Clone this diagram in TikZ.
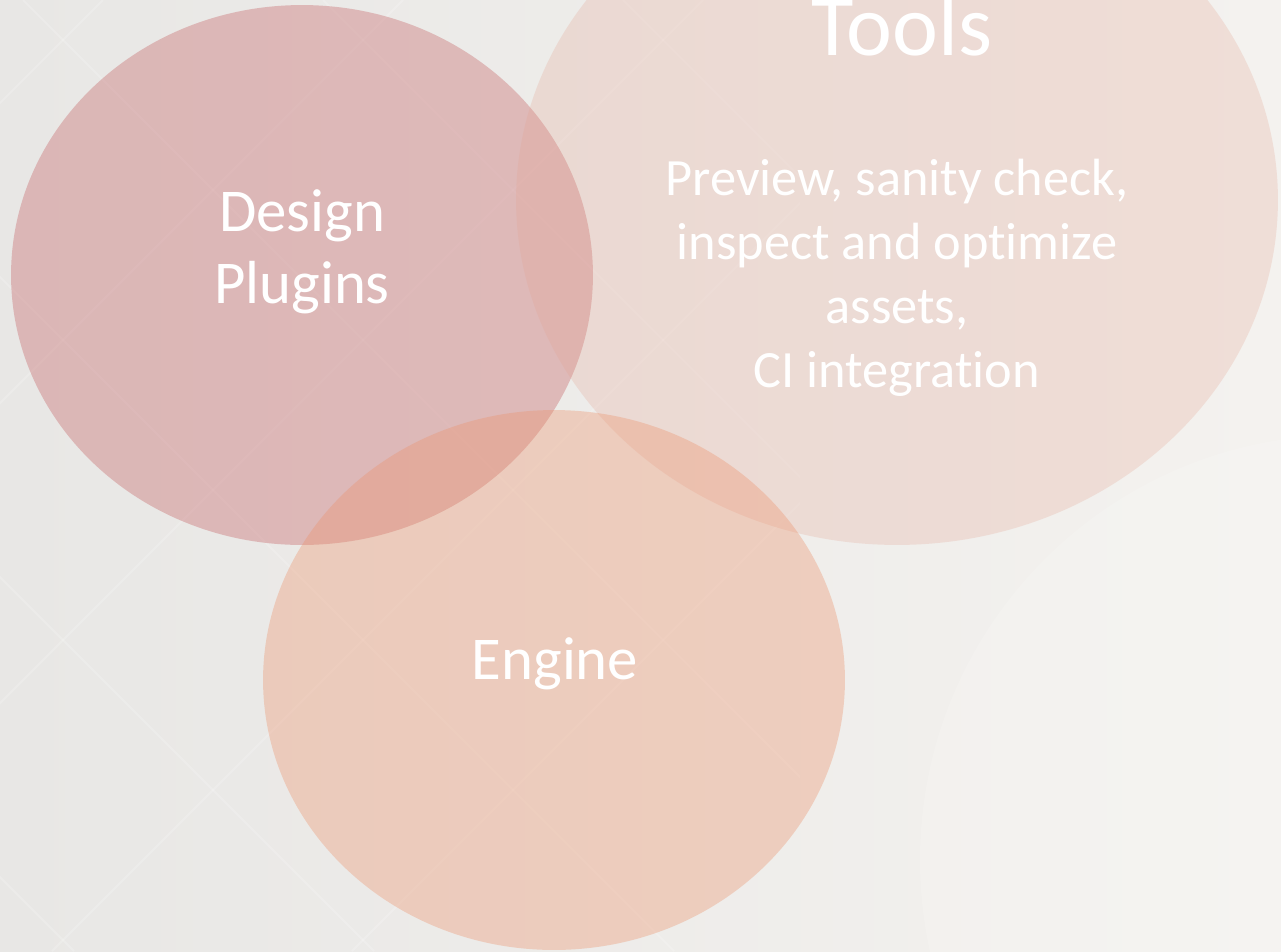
\documentclass[tikz,border=0pt]{standalone}
\usepackage{fontspec}
\setmainfont{Carlito}[Ligatures=NoCommon]
\usetikzlibrary{shapes.geometric}

\definecolor{bgleft}{HTML}{E8E7E5}
\definecolor{bgright}{HTML}{F4F2EF}
\definecolor{designfill}{RGB}{200,110,112}
\definecolor{toolsfill}{RGB}{228,163,145}
\definecolor{enginefill}{RGB}{236,146,107}

\begin{document}
\begin{tikzpicture}[
	x=0.02cm, y=-0.02cm,
	bubble/.style={
		ellipse,
		inner sep=0pt,
	},
	ventext/.style={
		text=white,
		align=center,
		inner sep=0pt,
		anchor=base,
	}
]

\useasboundingbox (0,0) rectangle (1281,951);
\clip (0,0) rectangle (1281,951);

% background
\shade[left color=bgleft, right color=bgright] (0,0) rectangle (1281,951);
\begin{scope}
\clip (0,0) rectangle (800,951);
\foreach \c in {103,403,703,1003,1303}
	\draw[white, line width=1.2pt, opacity=0.18] (\c,0) -- ++(-951,951);
\foreach \c in {-877,-577,-277,23,323,623}
	\draw[white, line width=1.2pt, opacity=0.18] (\c,0) -- ++(951,951);
\end{scope}
\fill[white, opacity=0.15] (1345,860) circle (425);

% circles
\node[bubble, fill=designfill, fill opacity=0.4, minimum width=11.64cm, minimum height=10.8cm] (design) at (302,275) {};
\node[bubble, fill=toolsfill, fill opacity=0.25, minimum width=15.24cm, minimum height=13.8cm] (tools) at (897,200) {};
\node[bubble, fill=enginefill, fill opacity=0.35, minimum width=11.64cm, minimum height=10.8cm] (engine) at (554,680) {};

% texts (base = last line)
\node[ventext, font=\fontsize{34.6}{40.8}\selectfont] (designtxt) at (302,303) {Design \\ Plugins};
\node[ventext, font=\fontsize{49.5}{60}\selectfont] (toolstitle) at (902,55) {Tools};
\node[ventext, font=\fontsize{29.8}{36.4}\selectfont] (toolstxt) at (897,387) {Preview, sanity check, \\ inspect and optimize \\ assets, \\ CI integration};
\node[ventext, font=\fontsize{34.6}{40.8}\selectfont] (enginetxt) at (555,679) {Engine};

\end{tikzpicture}
\end{document}
